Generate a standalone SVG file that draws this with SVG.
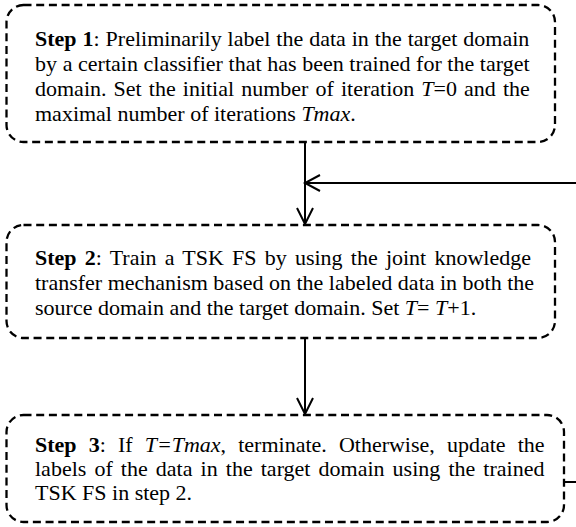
<svg xmlns="http://www.w3.org/2000/svg" width="576" height="527" viewBox="0 0 576 527">
<style>
.box{fill:#fff;stroke:#000;stroke-width:2.3;stroke-dasharray:8 4.7}
.t{font-family:"Liberation Serif","Times New Roman",serif;font-size:22px;fill:#000}
.b{font-weight:bold}
.i{font-style:italic}
.c{fill:none;stroke:#000;stroke-width:2}
</style>
<rect width="576" height="527" fill="#fff"/>
<g id="step1">
<rect class="box" x="6.5" y="5" width="548.5" height="137" rx="17"/>
<text class="t" x="35" y="46" word-spacing="0.45"><tspan class="b">Step 1</tspan>: Preliminarily label the data in the target domain</text>
<text class="t" x="35" y="71" word-spacing="0.14">by a certain classifier that has been trained for the target</text>
<text class="t" x="35" y="96" word-spacing="1.6">domain. Set the initial number of iteration <tspan class="i">T</tspan>=0 and the</text>
<text class="t" x="35" y="121">maximal number of iterations <tspan class="i">Tmax</tspan>.</text>
</g>
<g id="step2">
<rect class="box" x="6.5" y="225" width="548.5" height="113" rx="17"/>
<text class="t" x="35" y="265" word-spacing="2.7"><tspan class="b">Step 2</tspan>: Train a TSK FS by using the joint knowledge</text>
<text class="t" x="35" y="290">transfer mechanism based on the labeled data in both the</text>
<text class="t" x="35" y="315">source domain and the target domain. Set <tspan class="i">T</tspan>= <tspan class="i">T</tspan>+1.</text>
</g>
<g id="step3">
<rect class="box" x="6.5" y="415" width="557.5" height="107" rx="17"/>
<text class="t" x="35" y="452" word-spacing="6.6"><tspan class="b">Step 3</tspan>: If <tspan class="i">T=Tmax</tspan>, terminate. Otherwise, update the</text>
<text class="t" x="35" y="476" word-spacing="2.6">labels of the data in the target domain using the trained</text>
<text class="t" x="35" y="500">TSK FS in step 2.</text>
</g>
<g id="connectors">
<path class="c" d="M305 142V224M297 208L305 224L313 208"/>
<path class="c" d="M576 183H305M320 175L305 183L320 191"/>
<path class="c" d="M305 338V414M297 398L305 414L313 398"/>
<path class="c" d="M564 482H576"/>
</g>
</svg>
